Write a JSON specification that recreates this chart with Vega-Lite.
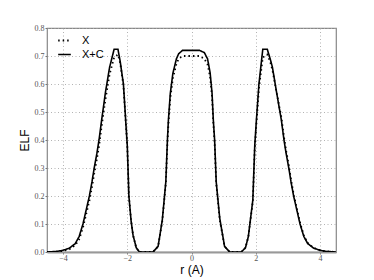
{
  "$schema": "https://vega.github.io/schema/vega-lite/v6.json",
  "width": 289,
  "height": 224,
  "autosize": {"type": "none"},
  "padding": {"left": 47, "top": 28, "right": 38, "bottom": 28},
  "background": "white",
  "config": {
    "view": {"stroke": "#888", "strokeWidth": 1.2},
    "axis": {
      "grid": true, "gridColor": "#aaa", "gridDash": [1, 2.5], "gridWidth": 0.9,
      "domain": false, "tickColor": "#777", "tickSize": 2,
      "labelFont": "Liberation Serif", "labelFontSize": 8, "labelColor": "#555",
      "titleFont": "Liberation Sans", "titleFontSize": 12, "titleFontWeight": "normal", "titleColor": "#000"
    }
  },
  "datasets": {
    "curves": [
      {"r": -4.5, "elf": 0, "s": "X+C"}, {"r": -4.2, "elf": 0.002, "s": "X+C"}, {"r": -4.0, "elf": 0.006, "s": "X+C"}, {"r": -3.8, "elf": 0.014, "s": "X+C"}, {"r": -3.62, "elf": 0.03, "s": "X+C"}, {"r": -3.5, "elf": 0.055, "s": "X+C"}, {"r": -3.38, "elf": 0.1, "s": "X+C"}, {"r": -3.28, "elf": 0.15, "s": "X+C"}, {"r": -3.18, "elf": 0.2, "s": "X+C"}, {"r": -3.1, "elf": 0.25, "s": "X+C"}, {"r": -3.03, "elf": 0.3, "s": "X+C"}, {"r": -2.95, "elf": 0.35, "s": "X+C"}, {"r": -2.88, "elf": 0.4, "s": "X+C"}, {"r": -2.8, "elf": 0.47, "s": "X+C"}, {"r": -2.68, "elf": 0.57, "s": "X+C"}, {"r": -2.55, "elf": 0.66, "s": "X+C"}, {"r": -2.41, "elf": 0.724, "s": "X+C"}, {"r": -2.29, "elf": 0.724, "s": "X+C"}, {"r": -2.22, "elf": 0.68, "s": "X+C"}, {"r": -2.12, "elf": 0.6, "s": "X+C"}, {"r": -2.05, "elf": 0.47, "s": "X+C"}, {"r": -2.0, "elf": 0.38, "s": "X+C"}, {"r": -1.95, "elf": 0.2, "s": "X+C"}, {"r": -1.88, "elf": 0.11, "s": "X+C"}, {"r": -1.82, "elf": 0.06, "s": "X+C"}, {"r": -1.72, "elf": 0.015, "s": "X+C"}, {"r": -1.62, "elf": 0.0, "s": "X+C"}, {"r": -1.2, "elf": 0.0, "s": "X+C"}, {"r": -1.04, "elf": 0.02, "s": "X+C"}, {"r": -0.91, "elf": 0.114, "s": "X+C"}, {"r": -0.8, "elf": 0.25, "s": "X+C"}, {"r": -0.75, "elf": 0.4, "s": "X+C"}, {"r": -0.72, "elf": 0.47, "s": "X+C"}, {"r": -0.66, "elf": 0.567, "s": "X+C"}, {"r": -0.58, "elf": 0.638, "s": "X+C"}, {"r": -0.47, "elf": 0.69, "s": "X+C"}, {"r": -0.4, "elf": 0.708, "s": "X+C"}, {"r": -0.28, "elf": 0.72, "s": "X+C"}, {"r": 0.25, "elf": 0.72, "s": "X+C"}, {"r": 0.4, "elf": 0.712, "s": "X+C"}, {"r": 0.5, "elf": 0.69, "s": "X+C"}, {"r": 0.58, "elf": 0.64, "s": "X+C"}, {"r": 0.64, "elf": 0.567, "s": "X+C"}, {"r": 0.68, "elf": 0.47, "s": "X+C"}, {"r": 0.72, "elf": 0.4, "s": "X+C"}, {"r": 0.77, "elf": 0.25, "s": "X+C"}, {"r": 0.88, "elf": 0.12, "s": "X+C"}, {"r": 1.03, "elf": 0.02, "s": "X+C"}, {"r": 1.19, "elf": 0.0, "s": "X+C"}, {"r": 1.55, "elf": 0.0, "s": "X+C"}, {"r": 1.68, "elf": 0.015, "s": "X+C"}, {"r": 1.77, "elf": 0.055, "s": "X+C"}, {"r": 1.91, "elf": 0.186, "s": "X+C"}, {"r": 1.97, "elf": 0.38, "s": "X+C"}, {"r": 2.02, "elf": 0.47, "s": "X+C"}, {"r": 2.1, "elf": 0.6, "s": "X+C"}, {"r": 2.22, "elf": 0.724, "s": "X+C"}, {"r": 2.36, "elf": 0.724, "s": "X+C"}, {"r": 2.45, "elf": 0.69, "s": "X+C"}, {"r": 2.52, "elf": 0.66, "s": "X+C"}, {"r": 2.65, "elf": 0.57, "s": "X+C"}, {"r": 2.8, "elf": 0.47, "s": "X+C"}, {"r": 2.88, "elf": 0.4, "s": "X+C"}, {"r": 2.95, "elf": 0.35, "s": "X+C"}, {"r": 3.03, "elf": 0.3, "s": "X+C"}, {"r": 3.1, "elf": 0.25, "s": "X+C"}, {"r": 3.18, "elf": 0.2, "s": "X+C"}, {"r": 3.28, "elf": 0.15, "s": "X+C"}, {"r": 3.38, "elf": 0.1, "s": "X+C"}, {"r": 3.5, "elf": 0.055, "s": "X+C"}, {"r": 3.62, "elf": 0.03, "s": "X+C"}, {"r": 3.8, "elf": 0.014, "s": "X+C"}, {"r": 4.0, "elf": 0.006, "s": "X+C"}, {"r": 4.2, "elf": 0.002, "s": "X+C"}, {"r": 4.5, "elf": 0, "s": "X+C"},
      {"r": -4.5, "elf": 0, "s": "X"}, {"r": -4.2, "elf": 0.001, "s": "X"}, {"r": -4.0, "elf": 0.004, "s": "X"}, {"r": -3.8, "elf": 0.01, "s": "X"}, {"r": -3.62, "elf": 0.024, "s": "X"}, {"r": -3.5, "elf": 0.045, "s": "X"}, {"r": -3.38, "elf": 0.087, "s": "X"}, {"r": -3.28, "elf": 0.135, "s": "X"}, {"r": -3.18, "elf": 0.183, "s": "X"}, {"r": -3.1, "elf": 0.232, "s": "X"}, {"r": -3.03, "elf": 0.28, "s": "X"}, {"r": -2.95, "elf": 0.33, "s": "X"}, {"r": -2.88, "elf": 0.378, "s": "X"}, {"r": -2.8, "elf": 0.448, "s": "X"}, {"r": -2.68, "elf": 0.545, "s": "X"}, {"r": -2.55, "elf": 0.635, "s": "X"}, {"r": -2.41, "elf": 0.695, "s": "X"}, {"r": -2.29, "elf": 0.705, "s": "X"}, {"r": -2.22, "elf": 0.675, "s": "X"}, {"r": -2.12, "elf": 0.595, "s": "X"}, {"r": -2.05, "elf": 0.47, "s": "X"}, {"r": -2.0, "elf": 0.38, "s": "X"}, {"r": -1.95, "elf": 0.2, "s": "X"}, {"r": -1.88, "elf": 0.11, "s": "X"}, {"r": -1.82, "elf": 0.06, "s": "X"}, {"r": -1.72, "elf": 0.015, "s": "X"}, {"r": -1.62, "elf": 0.0, "s": "X"}, {"r": -1.2, "elf": 0.0, "s": "X"}, {"r": -1.04, "elf": 0.02, "s": "X"}, {"r": -0.91, "elf": 0.11, "s": "X"}, {"r": -0.8, "elf": 0.245, "s": "X"}, {"r": -0.75, "elf": 0.39, "s": "X"}, {"r": -0.72, "elf": 0.455, "s": "X"}, {"r": -0.66, "elf": 0.55, "s": "X"}, {"r": -0.58, "elf": 0.62, "s": "X"}, {"r": -0.47, "elf": 0.672, "s": "X"}, {"r": -0.4, "elf": 0.69, "s": "X"}, {"r": -0.28, "elf": 0.7, "s": "X"}, {"r": 0.25, "elf": 0.7, "s": "X"}, {"r": 0.4, "elf": 0.69, "s": "X"}, {"r": 0.5, "elf": 0.67, "s": "X"}, {"r": 0.58, "elf": 0.625, "s": "X"}, {"r": 0.64, "elf": 0.555, "s": "X"}, {"r": 0.68, "elf": 0.46, "s": "X"}, {"r": 0.72, "elf": 0.39, "s": "X"}, {"r": 0.77, "elf": 0.245, "s": "X"}, {"r": 0.88, "elf": 0.115, "s": "X"}, {"r": 1.03, "elf": 0.02, "s": "X"}, {"r": 1.19, "elf": 0.0, "s": "X"}, {"r": 1.55, "elf": 0.0, "s": "X"}, {"r": 1.68, "elf": 0.015, "s": "X"}, {"r": 1.77, "elf": 0.055, "s": "X"}, {"r": 1.91, "elf": 0.18, "s": "X"}, {"r": 1.97, "elf": 0.37, "s": "X"}, {"r": 2.02, "elf": 0.455, "s": "X"}, {"r": 2.1, "elf": 0.585, "s": "X"}, {"r": 2.22, "elf": 0.695, "s": "X"}, {"r": 2.36, "elf": 0.705, "s": "X"}, {"r": 2.45, "elf": 0.68, "s": "X"}, {"r": 2.52, "elf": 0.65, "s": "X"}, {"r": 2.65, "elf": 0.57, "s": "X"}, {"r": 2.8, "elf": 0.48, "s": "X"}, {"r": 2.88, "elf": 0.41, "s": "X"}, {"r": 2.95, "elf": 0.36, "s": "X"}, {"r": 3.03, "elf": 0.31, "s": "X"}, {"r": 3.1, "elf": 0.258, "s": "X"}, {"r": 3.18, "elf": 0.207, "s": "X"}, {"r": 3.28, "elf": 0.155, "s": "X"}, {"r": 3.38, "elf": 0.105, "s": "X"}, {"r": 3.5, "elf": 0.058, "s": "X"}, {"r": 3.62, "elf": 0.032, "s": "X"}, {"r": 3.8, "elf": 0.015, "s": "X"}, {"r": 4.0, "elf": 0.006, "s": "X"}, {"r": 4.2, "elf": 0.002, "s": "X"}, {"r": 4.5, "elf": 0, "s": "X"}
    ]
  },
  "data": {"name": "curves"},
  "mark": {"type": "line", "color": "black", "clip": true},
  "encoding": {
    "x": {
      "field": "r", "type": "quantitative",
      "scale": {"domain": [-4.5, 4.5], "nice": false, "zero": false},
      "axis": {"values": [-4, -2, 0, 2, 4], "title": "r (A)", "titlePadding": 2, "labelPadding": 0,
               "domain": true, "domainColor": "#999", "domainWidth": 2}
    },
    "y": {
      "field": "elf", "type": "quantitative",
      "scale": {"domain": [0, 0.8], "nice": false},
      "axis": {"values": [0, 0.1, 0.2, 0.3, 0.4, 0.5, 0.6, 0.7, 0.8], "format": ".1f", "title": "ELF", "titlePadding": 3, "labelPadding": 1}
    },
    "strokeDash": {
      "field": "s", "type": "nominal",
      "scale": {"domain": ["X", "X+C"], "range": [[1.5, 3], [1, 0]]},
      "legend": {
        "title": null, "orient": "none", "legendX": 10, "legendY": 5,
        "symbolType": "stroke", "symbolSize": 160, "symbolStrokeWidth": 1.8, "symbolStrokeColor": "black",
        "labelFont": "Liberation Sans", "labelFontSize": 11, "labelColor": "black", "labelOffset": 10, "rowPadding": 1
      }
    },
    "strokeWidth": {
      "field": "s", "type": "nominal",
      "scale": {"domain": ["X", "X+C"], "range": [1.8, 1.6]},
      "legend": null
    },
    "order": {"field": "r", "type": "quantitative"}
  }
}
